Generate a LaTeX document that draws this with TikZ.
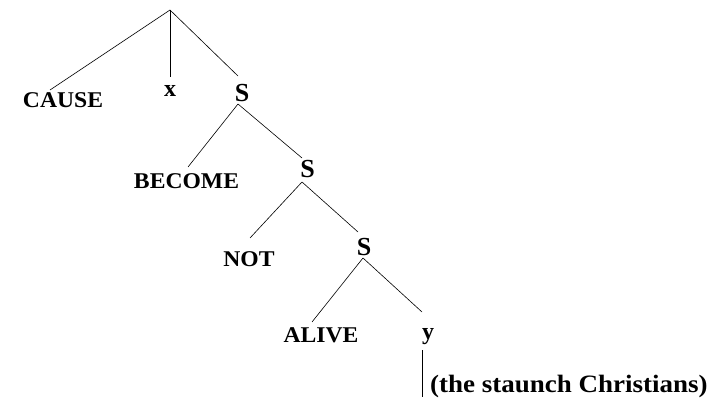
\documentclass[tikz,border=0pt]{standalone}
\usepackage{graphicx}
\usepackage{fontspec}
\setmainfont{Liberation Serif}
\newcommand{\capw}[1]{\scalebox{1.05}[1]{\bfseries\fontsize{22.5}{26}\selectfont #1}}
\newcommand{\sw}[1]{{\bfseries\fontsize{26}{30}\selectfont #1}}
\newcommand{\vw}[1]{{\bfseries\fontsize{24}{28}\selectfont #1}}
\newcommand{\lw}[1]{\scalebox{1.08}[1]{\bfseries\fontsize{25}{29}\selectfont #1}}
\begin{document}
\begin{tikzpicture}[x=1pt,y=-1pt,
  lbl/.style={inner sep=0pt},
  edge/.style={line width=0.6pt}]
\useasboundingbox (0,0) rectangle (708,401);
% nodes
\coordinate (root) at (170,10);
\node[lbl] (cause) at (63,100) {\capw{CAUSE}};
\node[lbl] (x) at (170,91) {\vw{x}};
\node[lbl] (s1) at (242,93) {\sw{S}};
\node[lbl] (become) at (186.5,181) {\capw{BECOME}};
\node[lbl] (s2) at (307.5,169) {\sw{S}};
\node[lbl] (not) at (249,259) {\capw{NOT}};
\node[lbl] (s3) at (364,247.5) {\sw{S}};
\node[lbl] (alive) at (321,335) {\capw{ALIVE}};
\node[lbl] (y) at (428,337) {\vw{y}};
\node[lbl,anchor=west] (chr) at (430,386) {\lw{(the staunch Christians)}};
% connector end points
\coordinate (e-cause) at (50,90);
\coordinate (e-x) at (170,77);
\coordinate (e-s1) at (238,76);
\coordinate (s1b) at (238,104);
\coordinate (e-become) at (188,167);
\coordinate (e-s2) at (302,158);
\coordinate (s2b) at (302,182);
\coordinate (e-not) at (250,238);
\coordinate (e-s3) at (358,232);
\coordinate (s3b) at (363,258);
\coordinate (e-alive) at (312,322);
\coordinate (e-y) at (422,312);
\coordinate (yb) at (422,350);
\coordinate (ye) at (422,397);
% connectors
\draw[edge] (root) -- (e-cause);
\draw[edge] (root) -- (e-x);
\draw[edge] (root) -- (e-s1);
\draw[edge] (s1b) -- (e-become);
\draw[edge] (s1b) -- (e-s2);
\draw[edge] (s2b) -- (e-not);
\draw[edge] (s2b) -- (e-s3);
\draw[edge] (s3b) -- (e-alive);
\draw[edge] (s3b) -- (e-y);
\draw[edge] (yb) -- (ye);
\end{tikzpicture}
\end{document}
